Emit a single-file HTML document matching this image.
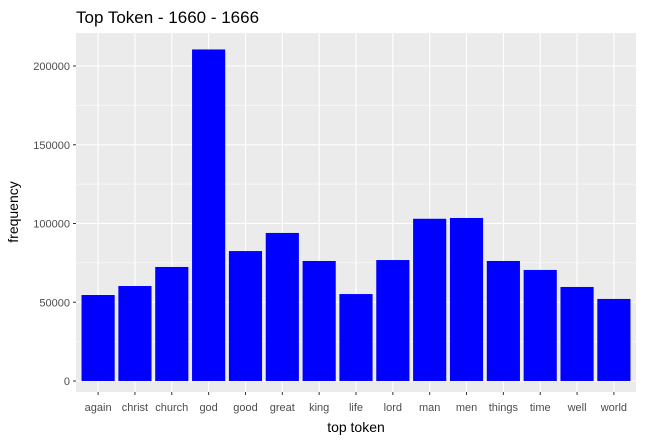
<!DOCTYPE html>
<html><head><meta charset="utf-8"><style>
body{margin:0;background:#fff;}
svg{display:block;font-family:"Liberation Sans",sans-serif;}
</style></head><body>
<svg id="chart" width="647" height="442">
<text x="76" y="23" font-size="17" fill="#000">Top Token - 1660 - 1666</text>
<rect x="76" y="33" width="560" height="359" fill="#ebebeb"/>
<g id="grid"></g><g id="bars"></g><g id="axes"></g>
<text x="356" y="432" font-size="14" text-anchor="middle" fill="#000">top token</text>
<text transform="translate(18,212) rotate(-90)" font-size="14" text-anchor="middle" fill="#000">frequency</text>
</svg>
<script>
const categories=["again","christ","church","god","good","great","king","life","lord","man","men","things","time","well","world"];
const values=[54600,60300,72400,210500,82500,94000,76200,55200,76800,103000,103500,76200,70500,59700,52100];
const yTicks=[0,50000,100000,150000,200000];
const NS="http://www.w3.org/2000/svg";
const px0=76,pw=560,py0=381,perUnit=78.75/50000;
const step=pw/(categories.length-1+1.2);
function xScale(i){return px0+step*(0.6+i);}
function yScale(v){return py0-v*perUnit;}
function mk(tag,attrs,parent){const e=document.createElementNS(NS,tag);for(const k in attrs)e.setAttribute(k,attrs[k]);parent.appendChild(e);return e;}
const grid=document.getElementById('grid'),bars=document.getElementById('bars'),axes=document.getElementById('axes');
for(let i=0;i<yTicks.length;i++){
  const y=yScale(yTicks[i]);
  const g=mk('line',{x1:76,x2:636,y1:y,y2:y,stroke:'#fff','stroke-width':1.1},grid);
  
  
  const ym=yScale(yTicks[i]+25000);
  if(ym>33){const m=mk('line',{x1:76,x2:636,y1:ym,y2:ym,stroke:'#fff','stroke-width':0.5},grid);
  
  }
  const t=mk('text',{x:70,y:y+4,'font-size':11,'text-anchor':'end',fill:'#4d4d4d'},axes);
  t.textContent=yTicks[i];
  
  
  mk('line',{x1:73,x2:76,y1:y,y2:y,stroke:'#333'},axes);
}
categories.forEach((c,i)=>{
  const x=xScale(i);
  const g=mk('line',{x1:x,x2:x,y1:33,y2:392,stroke:'#fff','stroke-width':1.1},grid);
  
  
  const bw=step*0.9;
  const b=mk('rect',{x:x-bw/2,y:yScale(values[i]),width:bw,height:yScale(0)-yScale(values[i]),fill:'#0000ff'},bars);
  
  
  mk('line',{x1:x,x2:x,y1:392,y2:395,stroke:'#333'},axes);
  const t=mk('text',{x:x,y:411,'font-size':11,'text-anchor':'middle',fill:'#4d4d4d'},axes);
  t.textContent=c;
  
  
});
</script>
</body></html>
